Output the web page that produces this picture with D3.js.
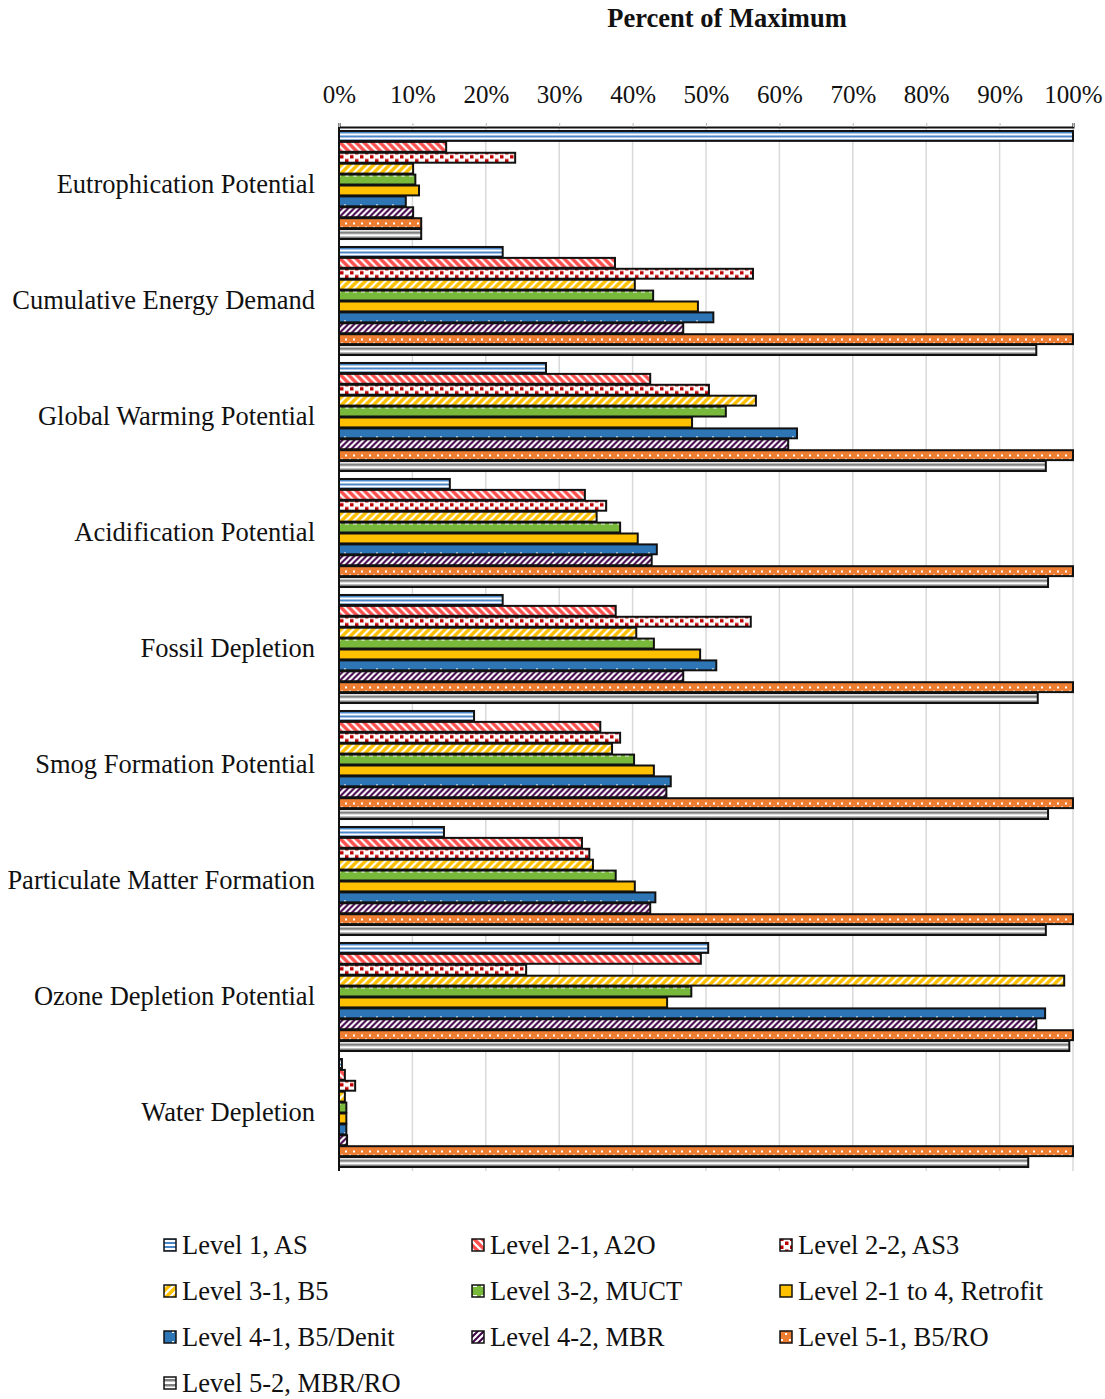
<!DOCTYPE html>
<html lang="en">
<head>
    <meta charset="UTF-8">
    <title>Percent of Maximum</title>
    <script src="https://cdn.jsdelivr.net/npm/d3@7"></script>
    <style>
        body { margin: 0; background: #fff; }
        text { font-family: "Liberation Serif", "Times New Roman", serif; }
    </style>
</head>
<body>
    <script>
        //categories (top to bottom)
        var categories = ['Eutrophication Potential', 'Cumulative Energy Demand', 'Global Warming Potential',
            'Acidification Potential', 'Fossil Depletion', 'Smog Formation Potential',
            'Particulate Matter Formation', 'Ozone Depletion Potential', 'Water Depletion'];

        var seriesNames = ['Level 1, AS', 'Level 2-1, A2O', 'Level 2-2, AS3', 'Level 3-1, B5', 'Level 3-2, MUCT',
            'Level 2-1 to 4, Retrofit', 'Level 4-1, B5/Denit', 'Level 4-2, MBR', 'Level 5-1, B5/RO', 'Level 5-2, MBR/RO'];

        //percent of maximum, one array per series, in category order
        var level1 = [100, 22.3, 28.2, 15.1, 22.3, 18.4, 14.3, 50.3, 0.4];
        var level21 = [14.6, 37.6, 42.4, 33.5, 37.7, 35.6, 33.1, 49.3, 0.8];
        var level22 = [24.0, 56.4, 50.4, 36.4, 56.1, 38.3, 34.1, 25.5, 2.2];
        var level31 = [10.1, 40.3, 56.8, 35.1, 40.5, 37.2, 34.6, 98.8, 0.8];
        var level32 = [10.4, 42.8, 52.7, 38.3, 42.9, 40.2, 37.7, 48.0, 1.0];
        var retrofit = [10.9, 48.9, 48.1, 40.7, 49.2, 42.9, 40.3, 44.7, 1.0];
        var level41 = [9.1, 51.0, 62.4, 43.3, 51.4, 45.2, 43.1, 96.2, 1.0];
        var level42 = [10.1, 46.9, 61.2, 42.6, 46.9, 44.6, 42.4, 95.0, 1.1];
        var level51 = [11.2, 100, 100, 100, 100, 100, 100, 100, 100];
        var level52 = [11.2, 95.0, 96.3, 96.6, 95.2, 96.6, 96.3, 99.5, 93.9];

        var seriesValues = [level1, level21, level22, level31, level32, retrofit, level41, level42, level51, level52];
        var tickValues = [0, 10, 20, 30, 40, 50, 60, 70, 80, 90, 100];

        var w = 1105;
        var h = 1399;
        var plotLeft = 339, plotRight = 1073, plotTop = 127, plotBottom = 1171;
        var fontSize = '26.5px';

        var svg = d3.select('body')
                    .append('svg')
                    .attr('width', w)
                    .attr('height', h);

        //fill patterns, one per series
        var defs = svg.append('defs');
        function pattern(id, pw, ph, bg) {
            var p = defs.append('pattern')
                .attr('id', id)
                .attr('patternUnits', 'userSpaceOnUse')
                .attr('width', pw)
                .attr('height', ph);
            p.append('rect').attr('width', pw).attr('height', ph).attr('fill', bg);
            return p;
        }
        // level 1: blue horizontal lines
        pattern('p0', 4, 4, '#fff').append('rect').attr('y', 1).attr('width', 4).attr('height', 2).attr('fill', '#4a86c8');
        // level 2-1: red wide downward diagonal
        pattern('p1', 8, 8, '#fff').append('path')
            .attr('d', 'M-2,2 L2,-2 M-2,10 L10,-2 M6,10 L10,6')
            .attr('stroke', '#ff5050').attr('stroke-width', 3.4)
            .attr('transform', 'scale(-1,1) translate(-8,0)');
        // level 2-2: dark red squares
        var p2 = pattern('p2', 10, 8, '#fff');
        p2.append('rect').attr('x', 0).attr('y', 0.5).attr('width', 3.5).attr('height', 3.5).attr('fill', '#c00000');
        p2.append('rect').attr('x', 5).attr('y', 4.5).attr('width', 3.5).attr('height', 3.5).attr('fill', '#c00000');
        // level 3-1: yellow upward diagonal
        pattern('p3', 8, 8, '#fff').append('path')
            .attr('d', 'M-2,2 L2,-2 M-2,10 L10,-2 M6,10 L10,6')
            .attr('stroke', '#ffc000').attr('stroke-width', 3.4);
        // level 3-2: green with white dashes
        var p4 = pattern('p4', 8, 10, '#78b83a');
        p4.append('rect').attr('x', 1).attr('y', 4).attr('width', 4).attr('height', 2).attr('fill', '#fff');
        // retrofit: solid gold
        pattern('p5', 4, 4, '#ffc000');
        // level 4-1: blue with sparse white dots
        var p6 = pattern('p6', 16, 10, '#2e75b6');
        p6.append('rect').attr('x', 8).attr('y', 4).attr('width', 2).attr('height', 2).attr('fill', '#fff');
        // level 4-2: purple upward diagonal
        pattern('p7', 6, 6, '#fff').append('path')
            .attr('d', 'M-1,1 L1,-1 M-1,7 L7,-1 M5,7 L7,5')
            .attr('stroke', '#3f0046').attr('stroke-width', 2);
        // level 5-1: orange with white dots
        var p8 = pattern('p8', 8, 10, '#ed7d31');
        p8.append('rect').attr('x', 1).attr('y', 2).attr('width', 2).attr('height', 2).attr('fill', '#fff');
        p8.append('rect').attr('x', 5).attr('y', 6).attr('width', 2).attr('height', 2).attr('fill', '#fff');
        // level 5-2: gray horizontal lines
        pattern('p9', 4, 5, '#fff').append('rect').attr('y', 1).attr('width', 4).attr('height', 2.5).attr('fill', '#808080');

        //scales
        var x = d3.scaleLinear().domain([0, 100]).range([plotLeft, plotRight]);
        var y0 = d3.scaleBand().domain(categories).range([plotTop, plotBottom]).paddingInner(0.06).paddingOuter(0.03);
        var y1 = d3.scaleBand().domain(d3.range(seriesNames.length)).range([0, y0.bandwidth()]);

        //gridlines
        svg.append('g')
            .selectAll('line')
            .data(tickValues.slice(1))
            .enter()
            .append('line')
            .attr('x1', function(d) { return x(d); })
            .attr('x2', function(d) { return x(d); })
            .attr('y1', plotTop)
            .attr('y2', plotBottom)
            .attr('stroke', '#d9d9d9')
            .attr('stroke-width', 1.5);

        //bars
        var groups = svg.append('g')
            .selectAll('g')
            .data(categories)
            .enter()
            .append('g')
            .attr('transform', function(d) { return 'translate(0,' + y0(d) + ')'; });

        groups.selectAll('rect')
            .data(function(d, ci) {
                return seriesValues.map(function(s, si) { return { si: si, v: s[ci] }; });
            })
            .enter()
            .append('rect')
            .attr('x', x(0))
            .attr('y', function(d) { return y1(d.si) + 0.5; })
            .attr('width', function(d) { return x(d.v) - x(0); })
            .attr('height', y1.bandwidth() - 1)
            .attr('fill', function(d) { return 'url(#p' + d.si + ')'; })
            .attr('stroke', '#111')
            .attr('stroke-width', 2);

        //top axis
        var axis = svg.append('g')
            .attr('transform', 'translate(0,' + plotTop + ')')
            .call(d3.axisTop(x).tickValues(tickValues).tickSize(4).tickFormat(function(d) { return d + '%'; }));
        axis.select('.domain').attr('stroke', '#111').attr('stroke-width', 2);
        axis.selectAll('.tick line').attr('stroke', '#bbb');
        axis.selectAll('.tick text')
            .attr('font-family', 'Liberation Serif, Times New Roman, serif')
            .attr('font-size', '25px')
            .attr('fill', '#111')
            .attr('y', -24);

        //left axis line
        svg.append('line')
            .attr('x1', plotLeft).attr('x2', plotLeft)
            .attr('y1', plotTop).attr('y2', plotBottom)
            .attr('stroke', '#111').attr('stroke-width', 2);

        //category labels
        svg.append('g')
            .selectAll('text')
            .data(categories)
            .enter()
            .append('text')
            .text(function(d) { return d; })
            .attr('x', 315)
            .attr('y', function(d) { return y0(d) + y0.bandwidth() / 2; })
            .attr('dy', '0.3em')
            .attr('text-anchor', 'end')
            .attr('font-size', fontSize)
            .attr('fill', '#111');

        //title
        svg.append('text')
            .text('Percent of Maximum')
            .attr('x', 727)
            .attr('y', 27)
            .attr('text-anchor', 'middle')
            .attr('font-size', fontSize)
            .attr('font-weight', 'bold')
            .attr('fill', '#111');

        //legend
        var legend = svg.append('g')
            .selectAll('g')
            .data(seriesNames)
            .enter()
            .append('g')
            .attr('transform', function(d, i) {
                return 'translate(' + (164 + (i % 3) * 308) + ',' + (1245 + Math.floor(i / 3) * 46) + ')';
            });
        legend.append('rect')
            .attr('x', 0).attr('y', -6)
            .attr('width', 12).attr('height', 12)
            .attr('fill', function(d, i) { return 'url(#p' + i + ')'; })
            .attr('stroke', '#111')
            .attr('stroke-width', 1.5);
        legend.append('text')
            .text(function(d) { return d; })
            .attr('x', 18)
            .attr('dy', '0.33em')
            .attr('font-size', fontSize)
            .attr('fill', '#111');
    </script>
</body>
</html>
